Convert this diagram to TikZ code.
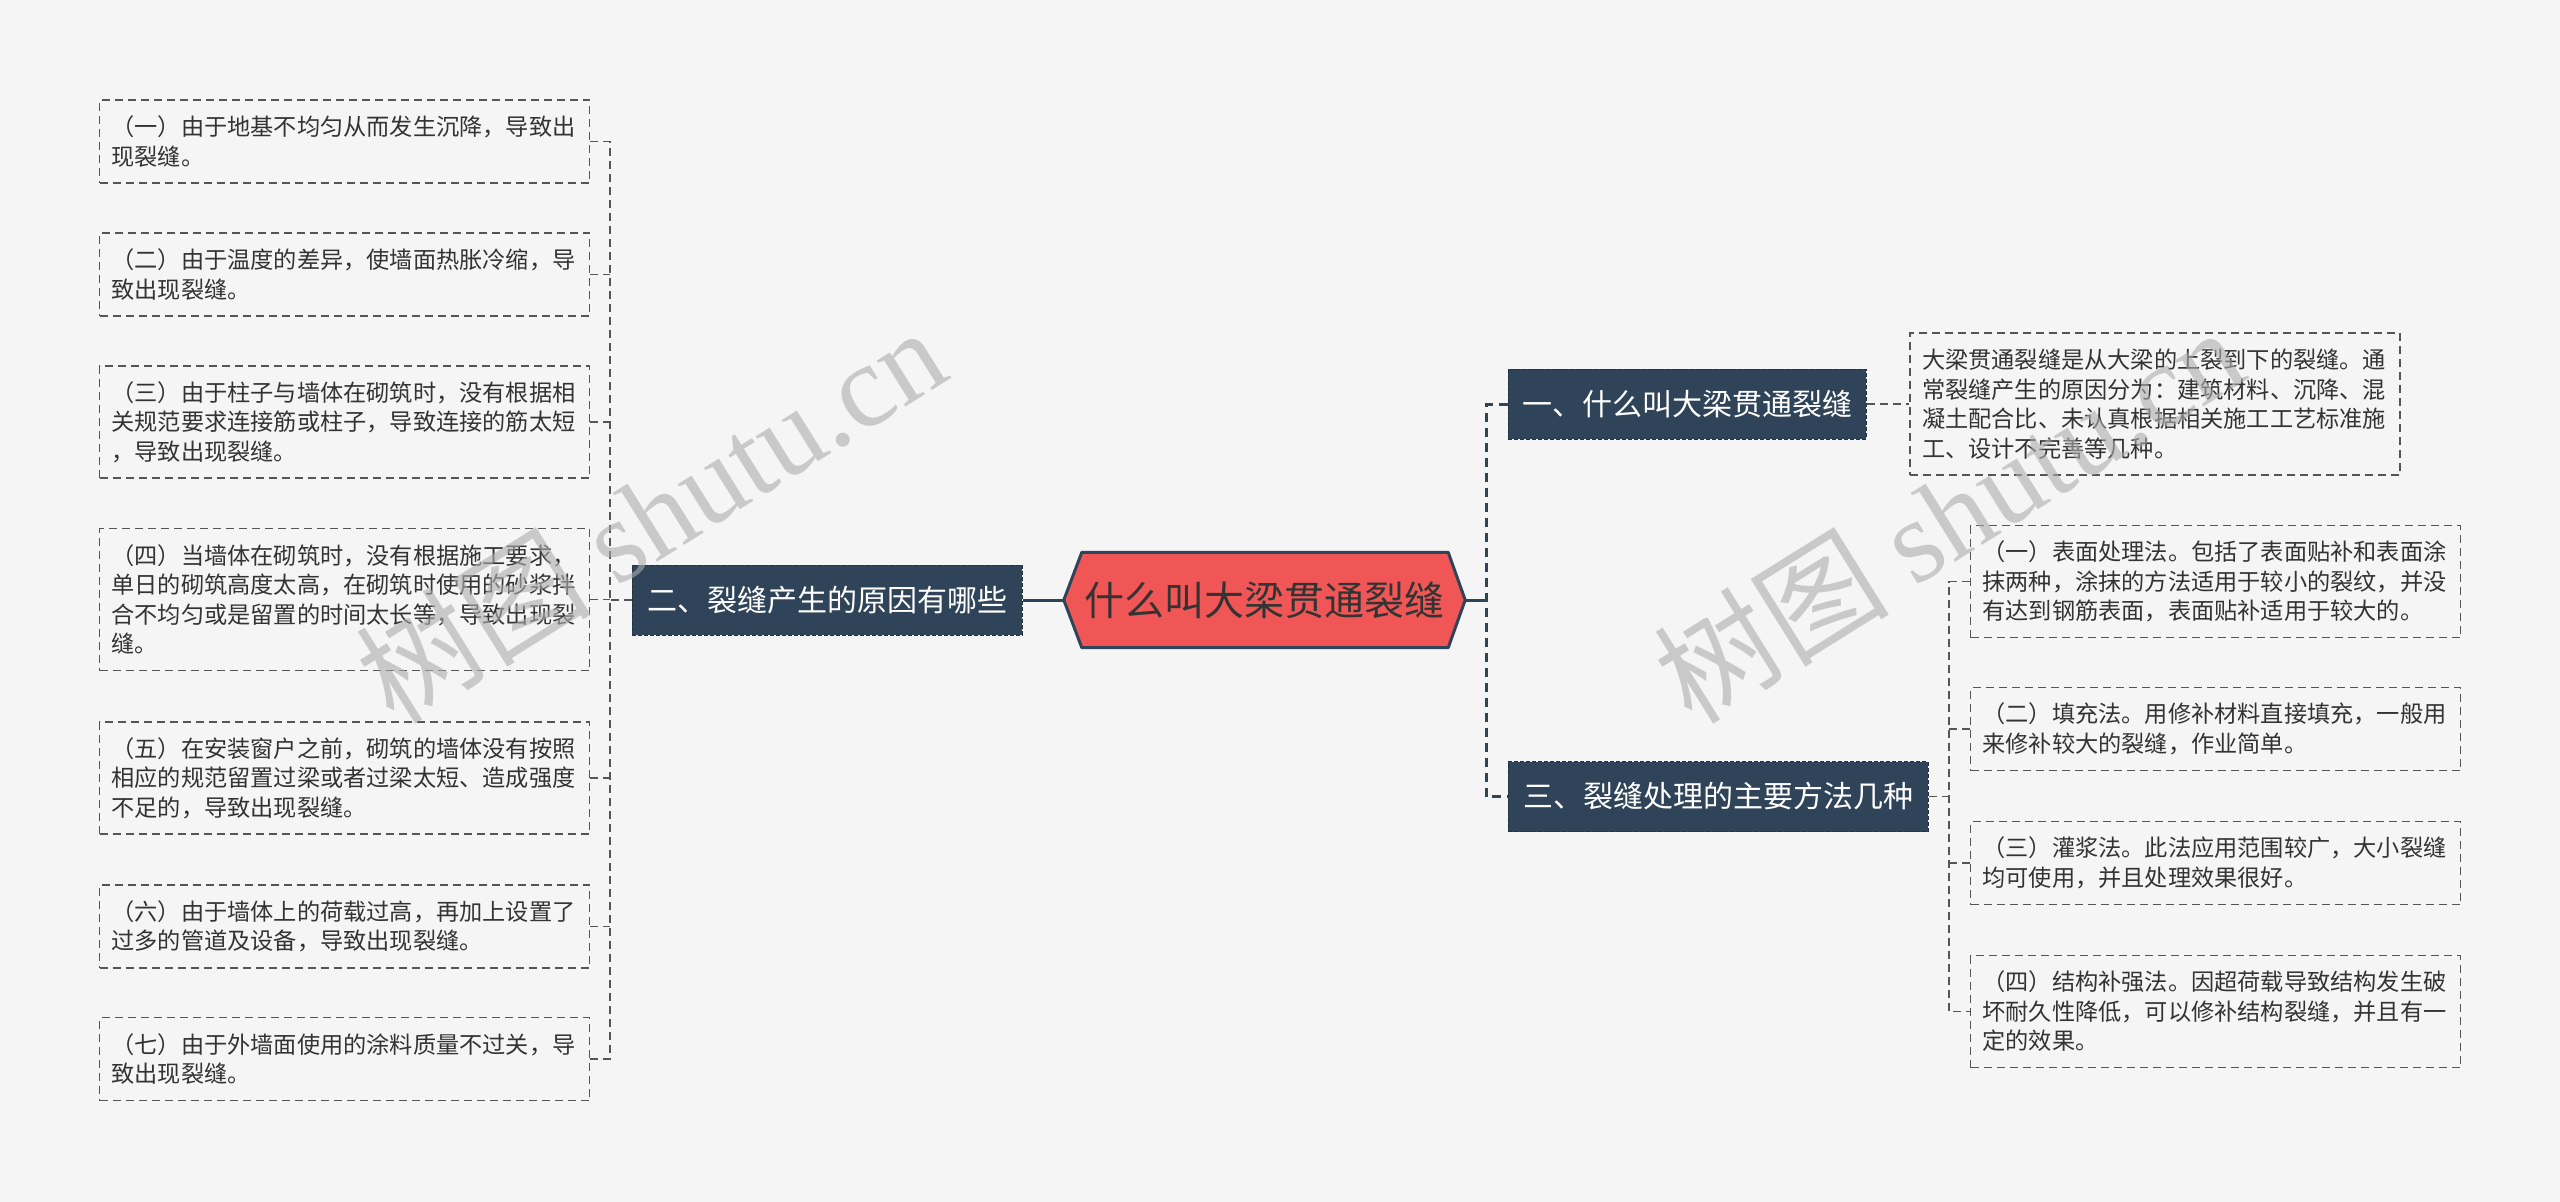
\documentclass[tikz,border=0pt]{standalone}
\usepackage{fontspec}
\setmainfont{Noto Sans CJK SC}
\newfontfamily\wmfont{Liberation Serif}
\usetikzlibrary{calc}
\pgfdeclarelayer{bg}
\pgfsetlayers{bg,main}
\definecolor{bgc}{HTML}{F5F5F5}
\definecolor{dark}{HTML}{2F4359}
\definecolor{rootred}{HTML}{F05656}
\definecolor{linegray}{HTML}{555555}
\definecolor{txt}{HTML}{333333}
\begin{document}
\begin{tikzpicture}[x=1pt,y=-1pt,
 leaf/.style={draw=linegray, line width=1.6pt, dash pattern=on 8pt off 5pt, text=txt,
   font=\fontsize{23.2}{29.5}\selectfont, text width=466pt, inner xsep=12pt, inner ysep=0pt,
   align=left, minimum width=490pt, anchor=center},
 l2/.style={leaf, minimum height=83pt},
 l3/.style={leaf, minimum height=112pt},
 l4/.style={leaf, minimum height=142pt},
 sub/.style={fill=dark, draw=dark!75!black, line width=1pt, dash pattern=on 4pt off 2pt,
   text=white, font=\fontsize{30}{36}\selectfont, inner sep=0pt, minimum height=70pt},
 gline/.style={draw=linegray, line width=1.6pt, dash pattern=on 8pt off 5pt},
 dline/.style={draw=dark, line width=3pt, dash pattern=on 9pt off 6pt},
 sline/.style={draw=dark, line width=3pt},
 wm/.style={text=black!32, opacity=0.6, rotate=32, font=\fontsize{118}{118}\selectfont, inner sep=0pt}
]
\begin{pgfonlayer}{bg}
\fill[bgc] (0,0) rectangle (2560,1202);
\end{pgfonlayer}
\useasboundingbox (0,0) rectangle (2560,1202);

% root
\node[font=\fontsize{40}{48}\selectfont, text=txt, minimum width=401pt, minimum height=95pt, inner sep=0pt] (root) at (1264.5,600) {什么叫大梁贯通裂缝};
\begin{pgfonlayer}{bg}
\draw[fill=rootred, draw=dark, line width=3pt, line join=round]
  (root.west) -- ([xshift=18pt]root.north west) -- ([xshift=-17pt]root.north east)
  -- (root.east) -- ([xshift=-17pt]root.south east) -- ([xshift=18pt]root.south west) -- cycle;
\end{pgfonlayer}

% main branches
\node[sub, minimum width=390pt] (n2) at (827,600) {二、裂缝产生的原因有哪些};
\node[sub, minimum width=358pt] (n1) at (1687,404) {一、什么叫大梁贯通裂缝};
\node[sub, minimum width=420pt] (n3) at (1718,796.5) {三、裂缝处理的主要方法几种};

% left leaves
\node[l2] (c1) at (344.5,141.5) {（一）由于地基不均匀从而发生沉降，导致出\\现裂缝。};
\node[l2] (c2) at (344.5,274.5) {（二）由于温度的差异，使墙面热胀冷缩，导\\致出现裂缝。};
\node[l3] (c3) at (344.5,422) {（三）由于柱子与墙体在砌筑时，没有根据相\\关规范要求连接筋或柱子，导致连接的筋太短\\，导致出现裂缝。};
\node[l4] (c4) at (344.5,599.5) {（四）当墙体在砌筑时，没有根据施工要求，\\单日的砌筑高度太高，在砌筑时使用的砂浆拌\\合不均匀或是留置的时间太长等，导致出现裂\\缝。};
\node[l3] (c5) at (344.5,778) {（五）在安装窗户之前，砌筑的墙体没有按照\\相应的规范留置过梁或者过梁太短、造成强度\\不足的，导致出现裂缝。};
\node[l2] (c6) at (344.5,926.5) {（六）由于墙体上的荷载过高，再加上设置了\\过多的管道及设备，导致出现裂缝。};
\node[l2] (c7) at (344.5,1059) {（七）由于外墙面使用的涂料质量不过关，导\\致出现裂缝。};

% right description
\node[l4] (d1) at (2155,404) {大梁贯通裂缝是从大梁的上裂到下的裂缝。通\\常裂缝产生的原因分为：建筑材料、沉降、混\\凝土配合比、未认真根据相关施工工艺标准施\\工、设计不完善等几种。};

% right leaves
\node[l3] (r1) at (2215.5,581.5) {（一）表面处理法。包括了表面贴补和表面涂\\抹两种，涂抹的方法适用于较小的裂纹，并没\\有达到钢筋表面，表面贴补适用于较大的。};
\node[l2] (r2) at (2215.5,729) {（二）填充法。用修补材料直接填充，一般用\\来修补较大的裂缝，作业简单。};
\node[l2] (r3) at (2215.5,863) {（三）灌浆法。此法应用范围较广，大小裂缝\\均可使用，并且处理效果很好。};
\node[l3] (r4) at (2215.5,1011.5) {（四）结构补强法。因超荷载导致结构发生破\\坏耐久性降低，可以修补结构裂缝，并且有一\\定的效果。};

% trunk coordinates
\coordinate (lt) at (610,600);
\coordinate (rt) at (1486,600);
\coordinate (rt2) at (1949,796.5);

% connectors
\draw[sline] (n2.east) -- (root.west);
\draw[sline] (root.east) -- (rt);
\draw[dline] (n1.west) -- (n1.west -| rt) -- (n3.west -| rt) -- (n3.west);

\draw[gline] (n2.west) -- (lt);
\draw[gline] (c1.east) -- (c1.east -| lt) -- (c7.east -| lt) -- (c7.east);
\foreach \c in {c2,c3,c4,c5,c6} \draw[gline] (\c.east) -- (\c.east -| lt);

\draw[gline] (n1.east) -- (d1.west);
\draw[gline] (n3.east) -- (rt2);
\draw[gline] (r1.west) -- (r1.west -| rt2) -- (r4.west -| rt2) -- (r4.west);
\foreach \c in {r2,r3} \draw[gline] (\c.west) -- (\c.west -| rt2);

% watermarks
\node[wm] (wm1) at (650,514) {树图 {\wmfont shutu.cn}};
\node[wm] (wm2) at (1948,514) {树图 {\wmfont shutu.cn}};
\end{tikzpicture}
\end{document}
